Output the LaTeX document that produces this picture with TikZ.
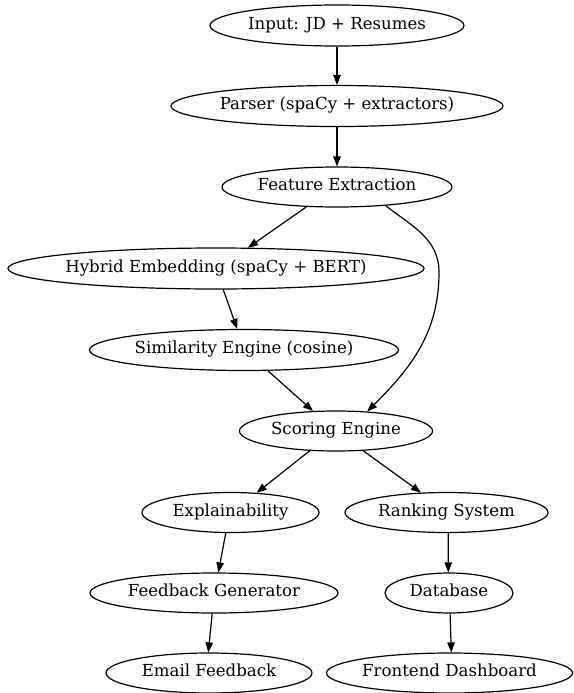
\documentclass[tikz,border=0pt]{standalone}
\usepackage{fontspec}
\setmainfont{DejaVu Serif}
\usetikzlibrary{arrows.meta,shapes.geometric}
\newcommand\lbl[1]{\makebox[0pt]{#1}}
\begin{document}
\begin{tikzpicture}[x=1pt,y=-1pt,
  nd/.style={draw, ellipse, line width=1.2pt, inner sep=0pt,
    text height=11.5pt, text depth=3.7pt,
    font=\fontsize{16.6}{19}\selectfont, text=black},
  ar/.style={line width=1.2pt, -{Triangle[length=10pt,width=7.5pt]}}]
\useasboundingbox[fill=white] (0,0) rectangle (573,693);

\node[nd, minimum width=254pt, minimum height=41pt] (inp) at (337,25.5) {\lbl{Input: JD + Resumes}};
\node[nd, minimum width=332pt, minimum height=41pt] (par) at (337,106) {\lbl{Parser (spaCy + extractors)}};
\node[nd, minimum width=230pt, minimum height=40pt] (fea) at (337,187) {\lbl{Feature Extraction}};
\node[nd, minimum width=416pt, minimum height=41pt] (hyb) at (216,268.5) {\lbl{Hybrid Embedding (spaCy + BERT)}};
\node[nd, minimum width=309pt, minimum height=41pt] (sim) at (244,350) {\lbl{Similarity Engine (cosine)}};
\node[nd, minimum width=193pt, minimum height=40pt] (sco) at (336,431) {\lbl{Scoring Engine}};
\node[nd, minimum width=177pt, minimum height=40pt] (exp) at (230.5,512.5) {\lbl{Explainability}};
\node[nd, minimum width=203pt, minimum height=40pt] (ran) at (446.5,512.5) {\lbl{Ranking System}};
\node[nd, minimum width=248pt, minimum height=40pt] (fg) at (214,593) {\lbl{Feedback Generator}};
\node[nd, minimum width=128pt, minimum height=40pt] (db) at (449,593) {\lbl{Database}};
\node[nd, minimum width=206pt, minimum height=40pt] (em) at (209,673) {\lbl{Email Feedback}};
\node[nd, minimum width=246pt, minimum height=40pt] (fe) at (449.5,673) {\lbl{Frontend Dashboard}};

\coordinate (bend) at (439,272);

\draw[ar] (inp.south) -- (par.north);
\draw[ar] (par.south) -- (fea.north);
\draw[ar] (fea.213.7) -- (hyb.33.5);
\draw[ar] (fea.-21) to[out=-38,in=90] (bend) to[out=-90,in=45] (sco.32);
\draw[ar] (hyb.-71) -- (sim.108.4);
\draw[ar] (sim.-41) -- (sco.139);
\draw[ar] (sco.217.6) -- (exp.37.7);
\draw[ar] (sco.-36.5) -- (ran.142.3);
\draw[ar] (exp.257.6) -- (fg.78.7);
\draw[ar] (ran.-85.8) -- (db.92.9);
\draw[ar] (fg.-95.7) -- (em.92.9);
\draw[ar] (db.-87) -- (fe.85.7);
\end{tikzpicture}
\end{document}
